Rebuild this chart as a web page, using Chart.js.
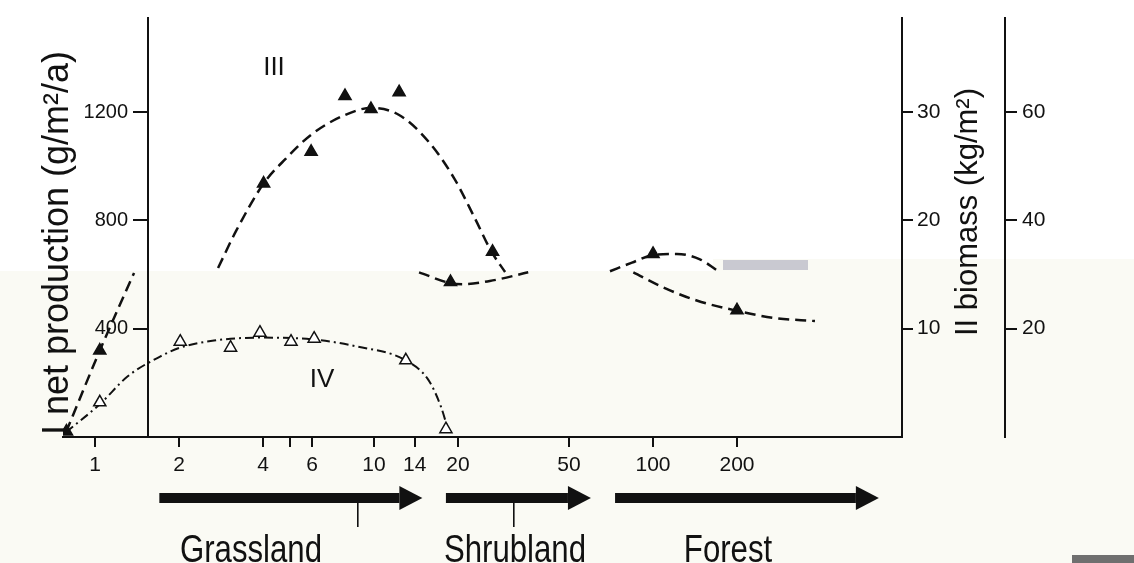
<!DOCTYPE html>
<html>
<head>
<meta charset="utf-8">
<title>Succession: production and biomass</title>
<script src="https://cdn.jsdelivr.net/npm/chart.js@4.4.1/dist/chart.umd.min.js"></script>
<style>
  html, body { margin: 0; padding: 0; background: #ffffff; }
  #wrap { width: 1134px; height: 563px; }
</style>
</head>
<body>
<div id="wrap"><canvas id="mainCanvas" width="1134" height="563"></canvas></div>
<script>
// years since start (log axis) and values
var iiiYears  = [0.79, 1.04, 4.02, 5.95, 7.87, 9.75, 12.3, 26.6];
var iiiValues = [20, 319, 936, 1053, 1259, 1211, 1273, 684];
var iiiCurveYears  = [0.787, 1.04, 1.38, 2.0, 2.76, 3.2, 4.02, 4.83, 5.95, 7.87, 9.75, 12.3, 15.7, 19.4, 23.0, 26.3, 29.5];
var iiiCurveValues = [18, 319, 606, null, 624, 760, 936, 1028, 1116, 1189, 1215, 1189, 1090, 954, 807, 686, 609];

var ivYears  = [1.04, 2.02, 3.06, 3.9, 5.04, 6.1, 13.0, 18.1];
var ivValues = [128, 352, 330, 385, 352, 363, 283, 29];
var ivCurveYears  = [0.787, 1.04, 1.31, 1.71, 2.02, 2.67, 3.9, 6.1, 8.69, 13.0, 15.7, 17.4, 18.3];
var ivCurveValues = [18, 121, 224, 297, 330, 356, 367, 360, 334, 283, 209, 110, 37];

// biomass (kg/m2)
var iiYears  = [18.8, 100, 200];
var iiValues = [14.3, 16.9, 11.7];
var iiCurveYears  = [14.5, 18.8, 20.9, 26.0, 35.7, 50, 70.1, 84.1, 100, 121.7, 147.3, 169.2];
var iiCurveValues = [15.2, 14.2, 14.1, 14.4, 15.2, null, 15.3, 16.1, 16.8, 16.9, 16.4, 15.4];
var iiBranchYears  = [85.0, 108.9, 143.4, 200, 270, 380.6];
var iiBranchValues = [15.2, 13.8, 12.6, 11.65, 11.0, 10.7];

var yearTicks  = [1, 2, 4, 5, 6, 10, 14, 20, 50, 100, 200];
var yearLabels = ['1', '2', '4', '', '6', '10', '14', '20', '50', '100', '200'];
var productionTicks = [400, 800, 1200];
var biomassTicks  = [10, 20, 30];
var biomassTicks2 = [20, 40, 60];

var stages    = ['Grassland', 'Shrubland', 'Forest'];
var stageFrom = [1.70, 18.1, 73.1];
var stageTo   = [14.9, 59.9, 645];

function pairs(xs, ys) {
    return xs.map(function (x, i) { return { x: x, y: ys[i] }; });
}

var FONT = '"Liberation Sans", Arial, Helvetica, sans-serif';
var INK = '#111111';
Chart.defaults.font.family = FONT;
Chart.defaults.color = INK;

var backdrop = {
    id: 'backdrop',
    beforeDraw: function (chart) {
        var ctx = chart.ctx;
        ctx.save();
        ctx.fillStyle = '#ffffff';
        ctx.fillRect(0, 0, chart.width, chart.height);
        // the lower strip of the scan is slightly cream
        ctx.fillStyle = '#fafaf4';
        ctx.fillRect(0, 271, chart.width, chart.height - 271);
        ctx.fillRect(713, 259, chart.width - 713, 12);
        ctx.fillStyle = '#c9c9d1';
        ctx.fillRect(723, 260, 85, 10);
        ctx.fillStyle = '#6f6f6f';
        ctx.fillRect(1072, 555, 62, 8);
        ctx.restore();
    }
};

var notes = {
    id: 'notes',
    afterDraw: function (chart) {
        var ctx = chart.ctx;
        var xs = chart.scales.x;
        ctx.save();
        ctx.fillStyle = INK;
        ctx.textAlign = 'center';
        ctx.textBaseline = 'alphabetic';

        ctx.font = '36px ' + FONT;
        ctx.save();
        ctx.translate(68, 243);
        ctx.rotate(-Math.PI / 2);
        ctx.fillText('I net production (g/m\u00b2/a)', 0, 0);
        ctx.restore();

        ctx.font = '31px ' + FONT;
        ctx.save();
        ctx.translate(977, 212);
        ctx.rotate(-Math.PI / 2);
        ctx.fillText('II biomass (kg/m\u00b2)', 0, 0);
        ctx.restore();

        ctx.font = '26px ' + FONT;
        ctx.textBaseline = 'middle';
        ctx.fillText('III', 274, 68);
        ctx.fillText('IV', 322, 380);

        // succession arrows
        var labelX = [251, 515, 728];
        stages.forEach(function (name, i) {
            var x0 = xs.getPixelForValue(stageFrom[i]);
            var x1 = xs.getPixelForValue(stageTo[i]);
            ctx.fillRect(x0, 493, x1 - 23 - x0, 10);
            ctx.beginPath();
            ctx.moveTo(x1 - 23, 486);
            ctx.lineTo(x1, 498);
            ctx.lineTo(x1 - 23, 510);
            ctx.closePath();
            ctx.fill();

            ctx.save();
            ctx.font = '38px ' + FONT;
            ctx.textBaseline = 'alphabetic';
            ctx.translate(labelX[i], 562);
            ctx.scale(0.82, 1);
            ctx.fillText(name, 0, 0);
            ctx.restore();
        });
        ctx.fillRect(357, 503, 1.6, 24);
        ctx.fillRect(513, 503, 1.6, 24);
        ctx.restore();
    }
};

var lineBase = {
    borderColor: INK,
    pointRadius: 0,
    fill: false,
    cubicInterpolationMode: 'monotone',
    spanGaps: false
};

function curve(data, yAxis, dash, width) {
    return Object.assign({}, lineBase, {
        data: data,
        yAxisID: yAxis,
        borderDash: dash,
        borderWidth: width
    });
}

function markers(data, yAxis, fill) {
    return {
        data: data,
        yAxisID: yAxis,
        showLine: false,
        pointStyle: 'triangle',
        pointRadius: 7,
        pointBackgroundColor: fill,
        pointBorderColor: INK,
        pointBorderWidth: 1.5
    };
}

function fixedTicks(list) {
    return function (scale) {
        scale.ticks = list.map(function (v) { return { value: v }; });
    };
}

var ChartObj = new Chart(document.getElementById('mainCanvas'), {
    type: 'line',
    data: {
        datasets: [
            markers(pairs(iiiYears, iiiValues), 'y', INK),
            markers(pairs(ivYears, ivValues), 'y', '#ffffff'),
            markers(pairs(iiYears, iiValues), 'y1', INK),
            curve(pairs(iiiCurveYears, iiiCurveValues), 'y', [11, 6], 2.5),
            curve(pairs(ivCurveYears, ivCurveValues), 'y', [9, 4, 2, 4], 2),
            curve(pairs(iiCurveYears, iiCurveValues), 'y1', [11, 6], 2.5),
            curve(pairs(iiBranchYears, iiBranchValues), 'y1', [11, 6], 2.5)
        ]
    },
    options: {
        responsive: false,
        animation: false,
        devicePixelRatio: 1,
        layout: { padding: { left: 63, top: 15, right: 0, bottom: 0 } },
        plugins: { legend: { display: false }, tooltip: { enabled: false } },
        scales: {
            x: {
                type: 'logarithmic',
                min: 0.7676,
                max: 780.6,
                bounds: 'data',
                afterBuildTicks: fixedTicks(yearTicks),
                afterFit: function (s) { s.height = 126; },
                ticks: {
                    autoSkip: false, maxRotation: 0, padding: 6, color: INK,
                    font: { size: 21 },
                    callback: function (v, i) { return yearLabels[i]; }
                },
                grid: { drawOnChartArea: false, tickLength: 10, color: INK, lineWidth: 2 },
                border: { color: INK, width: 2 }
            },
            y: {
                type: 'linear',
                position: { x: 1.5485 },
                min: 0,
                max: 1548.6,
                bounds: 'data',
                afterBuildTicks: fixedTicks(productionTicks),
                // axis sits inside the plot, so labels are pushed off the tick marks
                ticks: {
                    color: INK, font: { size: 20 },
                    callback: function (v) { return String(v) + '\u2002\u2002'; }
                },
                grid: { drawOnChartArea: false, tickLength: 14, color: INK, lineWidth: 2 },
                border: { color: INK, width: 2 }
            },
            y1: {
                type: 'linear',
                position: 'right',
                min: 0,
                max: 38.715,
                bounds: 'data',
                afterBuildTicks: fixedTicks(biomassTicks),
                afterFit: function (s) { s.width = 103; },
                ticks: { padding: 4, color: INK, font: { size: 21 } },
                grid: { drawOnChartArea: false, tickLength: 11, color: INK, lineWidth: 2 },
                border: { color: INK, width: 2 }
            },
            y2: {
                type: 'linear',
                position: 'right',
                min: 0,
                max: 77.43,
                bounds: 'data',
                afterBuildTicks: fixedTicks(biomassTicks2),
                afterFit: function (s) { s.width = 129; },
                ticks: { padding: 5, color: INK, font: { size: 21 } },
                grid: { drawOnChartArea: false, tickLength: 12, color: INK, lineWidth: 2 },
                border: { color: INK, width: 2 }
            }
        }
    },
    plugins: [backdrop, notes]
});
</script>
</body>
</html>
